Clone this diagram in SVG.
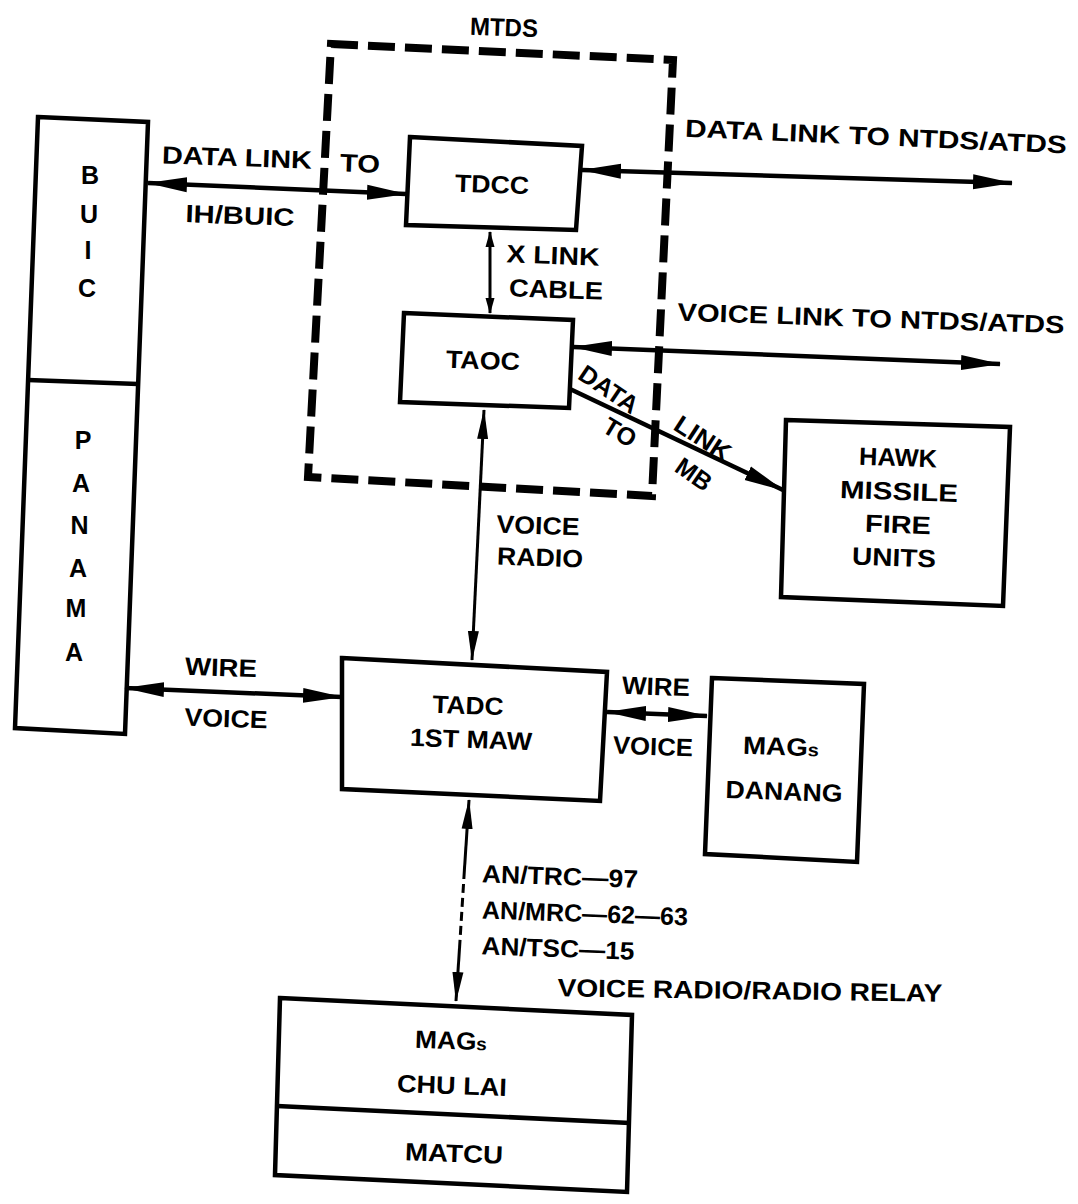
<svg xmlns="http://www.w3.org/2000/svg" width="1078" height="1204" viewBox="0 0 1078 1204">
<defs>
<style>
.box{fill:none;stroke:#000;stroke-width:4.5;stroke-linejoin:miter}
.ln{fill:none;stroke:#000;stroke-width:4.5}
.ln3{fill:none;stroke:#000;stroke-width:3}
.t{font-family:"Liberation Sans",Arial,sans-serif;font-weight:bold;font-size:25px;fill:#000;text-anchor:middle}
.s{font-size:18px}
</style>
<marker id="ah" viewBox="0 0 40 16" refX="39" refY="8" markerWidth="40" markerHeight="16" markerUnits="userSpaceOnUse" orient="auto-start-reverse"><path d="M0,0.5 L40,8 L0,15.5 z" fill="#000"/></marker>
<marker id="ahs" viewBox="0 0 30 12" refX="29" refY="6" markerWidth="30" markerHeight="12" markerUnits="userSpaceOnUse" orient="auto-start-reverse"><path d="M0,0.5 L30,6 L0,11.5 z" fill="#000"/></marker>
<marker id="ahx" viewBox="0 0 16 10" refX="15" refY="5" markerWidth="16" markerHeight="10" markerUnits="userSpaceOnUse" orient="auto-start-reverse"><path d="M0,0.5 L16,5 L0,9.5 z" fill="#000"/></marker>
</defs>
<rect width="1078" height="1204" fill="#fff"/>

<g id="mtds">
<polygon points="331,44 673,60 652,496 308,477" fill="none" stroke="#000" stroke-width="8" stroke-dasharray="27 10"/>
<text class="t" x="504" y="36" textLength="68" lengthAdjust="spacingAndGlyphs" transform="rotate(2 504 27)">MTDS</text>
</g>

<g id="buic-panama">
<polygon class="box" points="38,117 148,122 125,734 15,728"/>
<line class="box" x1="28" y1="380" x2="138" y2="384"/>
<text class="t" x="90" y="184">B</text>
<text class="t" x="89" y="223">U</text>
<text class="t" x="88" y="259">I</text>
<text class="t" x="87" y="297">C</text>
<text class="t" x="83" y="449">P</text>
<text class="t" x="81" y="492">A</text>
<text class="t" x="79.5" y="534">N</text>
<text class="t" x="78" y="577">A</text>
<text class="t" x="76" y="617">M</text>
<text class="t" x="74" y="661">A</text>
</g>

<g id="tdcc">
<polygon class="box" points="410,137 582,146 576,230 406,225"/>
<text class="t" x="492" y="193" textLength="74" lengthAdjust="spacingAndGlyphs" transform="rotate(2 492 184)">TDCC</text>
</g>

<g id="taoc">
<polygon class="box" points="404,313 573,320 569,408 400,402"/>
<text class="t" x="483" y="369" textLength="74" lengthAdjust="spacingAndGlyphs" transform="rotate(2 483 360)">TAOC</text>
</g>

<g id="hawk">
<polygon class="box" points="786,420 1010,427 1003,606 781,597"/>
<text class="t" x="898" y="466" textLength="78" lengthAdjust="spacingAndGlyphs" transform="rotate(2 898 457)">HAWK</text>
<text class="t" x="899" y="500" textLength="118" lengthAdjust="spacingAndGlyphs" transform="rotate(2 899 491)">MISSILE</text>
<text class="t" x="898" y="533" textLength="66" lengthAdjust="spacingAndGlyphs" transform="rotate(2 898 524)">FIRE</text>
<text class="t" x="894" y="566" textLength="84" lengthAdjust="spacingAndGlyphs" transform="rotate(2 894 557)">UNITS</text>
</g>

<g id="tadc">
<polygon class="box" points="342,658 607,672 600,801 342,789"/>
<text class="t" x="468" y="714" textLength="71" lengthAdjust="spacingAndGlyphs" transform="rotate(2 468 705)">TADC</text>
<text class="t" x="471" y="748" textLength="122" lengthAdjust="spacingAndGlyphs" transform="rotate(2 471 739)">1ST MAW</text>
</g>

<g id="danang">
<polygon class="box" points="712,678 864,684 857,862 705,854"/>
<text class="t" x="781" y="755" textLength="76" lengthAdjust="spacingAndGlyphs" transform="rotate(2 781 746)">MAG<tspan class="s">s</tspan></text>
<text class="t" x="784" y="800" textLength="117" lengthAdjust="spacingAndGlyphs" transform="rotate(2 784 791)">DANANG</text>
</g>

<g id="chulai">
<polygon class="box" points="280,998 632,1015 627,1192 275,1175"/>
<line class="box" x1="277" y1="1106" x2="630" y2="1123"/>
<text class="t" x="451" y="1049" textLength="72" lengthAdjust="spacingAndGlyphs" transform="rotate(2 451 1040)">MAG<tspan class="s">s</tspan></text>
<text class="t" x="452" y="1094" textLength="110" lengthAdjust="spacingAndGlyphs" transform="rotate(2 452 1085)">CHU LAI</text>
<text class="t" x="454" y="1162" textLength="98" lengthAdjust="spacingAndGlyphs" transform="rotate(2 454 1153)">MATCU</text>
</g>

<g id="connectors">
<line class="ln" x1="148" y1="183" x2="406" y2="194" marker-start="url(#ah)" marker-end="url(#ah)"/>
<line class="ln" x1="582" y1="170" x2="1012" y2="183" marker-start="url(#ah)" marker-end="url(#ah)"/>
<line class="ln" x1="573" y1="347" x2="1000" y2="364" marker-start="url(#ah)" marker-end="url(#ah)"/>
<line class="ln3" x1="490" y1="232" x2="490" y2="313" marker-start="url(#ahx)" marker-end="url(#ahx)"/>
<line class="ln" x1="570" y1="389" x2="783" y2="490" marker-end="url(#ah)"/>
<line class="ln3" x1="484" y1="410" x2="472" y2="660" marker-start="url(#ahs)" marker-end="url(#ahs)"/>
<line class="ln" x1="125" y1="688" x2="342" y2="697" marker-start="url(#ah)" marker-end="url(#ah)"/>
<line class="ln" x1="607" y1="712" x2="707" y2="716" marker-start="url(#ah)" marker-end="url(#ah)"/>
<line class="ln3" x1="469" y1="800" x2="464.4" y2="870" marker-start="url(#ahs)"/>
<line class="ln3" x1="464.4" y1="870" x2="459.6" y2="947" stroke-dasharray="9 5"/>
<line class="ln3" x1="459.6" y1="947" x2="456" y2="1001" marker-end="url(#ahs)"/>
</g>

<g id="labels">
<text class="t" x="237" y="166" textLength="150" lengthAdjust="spacingAndGlyphs" transform="rotate(2 237 157)">DATA LINK</text>
<text class="t" x="360" y="172" textLength="40" lengthAdjust="spacingAndGlyphs" transform="rotate(2 360 163)">TO</text>
<text class="t" x="240" y="224" textLength="109" lengthAdjust="spacingAndGlyphs" transform="rotate(2 240 215)">IH/BUIC</text>
<text class="t" x="553" y="264" textLength="93" lengthAdjust="spacingAndGlyphs" transform="rotate(2 553 255)">X LINK</text>
<text class="t" x="556" y="298" textLength="94" lengthAdjust="spacingAndGlyphs" transform="rotate(2 556 289)">CABLE</text>
<text class="t" x="876" y="145" textLength="382" lengthAdjust="spacingAndGlyphs" transform="rotate(2.5 876 136)">DATA LINK TO NTDS/ATDS</text>
<text class="t" x="871" y="327" textLength="387" lengthAdjust="spacingAndGlyphs" transform="rotate(1.9 871 318)">VOICE LINK TO NTDS/ATDS</text>
<text class="t" x="609" y="398" textLength="66" lengthAdjust="spacingAndGlyphs" transform="rotate(34 609 389)">DATA</text>
<text class="t" x="703" y="447" textLength="62" lengthAdjust="spacingAndGlyphs" transform="rotate(33 703 438)">LINK</text>
<text class="t" x="620" y="441" textLength="34" lengthAdjust="spacingAndGlyphs" transform="rotate(31 620 432)">TO</text>
<text class="t" x="694" y="483" textLength="38" lengthAdjust="spacingAndGlyphs" transform="rotate(35 694 474)">MB</text>
<text class="t" x="538" y="534" textLength="83" lengthAdjust="spacingAndGlyphs" transform="rotate(2 538 525)">VOICE</text>
<text class="t" x="540" y="566" textLength="86" lengthAdjust="spacingAndGlyphs" transform="rotate(2 540 557)">RADIO</text>
<text class="t" x="221" y="676" textLength="72" lengthAdjust="spacingAndGlyphs" transform="rotate(2 221 667)">WIRE</text>
<text class="t" x="226" y="727" textLength="83" lengthAdjust="spacingAndGlyphs" transform="rotate(2 226 718)">VOICE</text>
<text class="t" x="656" y="695" textLength="68" lengthAdjust="spacingAndGlyphs" transform="rotate(2 656 686)">WIRE</text>
<text class="t" x="653" y="755" textLength="80" lengthAdjust="spacingAndGlyphs" transform="rotate(2 653 746)">VOICE</text>
<text class="t" x="560" y="885" textLength="156" lengthAdjust="spacingAndGlyphs" transform="rotate(2 560 876)">AN/TRC—97</text>
<text class="t" x="585" y="922" textLength="206" lengthAdjust="spacingAndGlyphs" transform="rotate(2 585 913)">AN/MRC—62—63</text>
<text class="t" x="558" y="957" textLength="153" lengthAdjust="spacingAndGlyphs" transform="rotate(2 558 948)">AN/TSC—15</text>
<text class="t" x="750" y="999" textLength="385" lengthAdjust="spacingAndGlyphs" transform="rotate(0.8 750 990)">VOICE RADIO/RADIO RELAY</text>
</g>
</svg>
